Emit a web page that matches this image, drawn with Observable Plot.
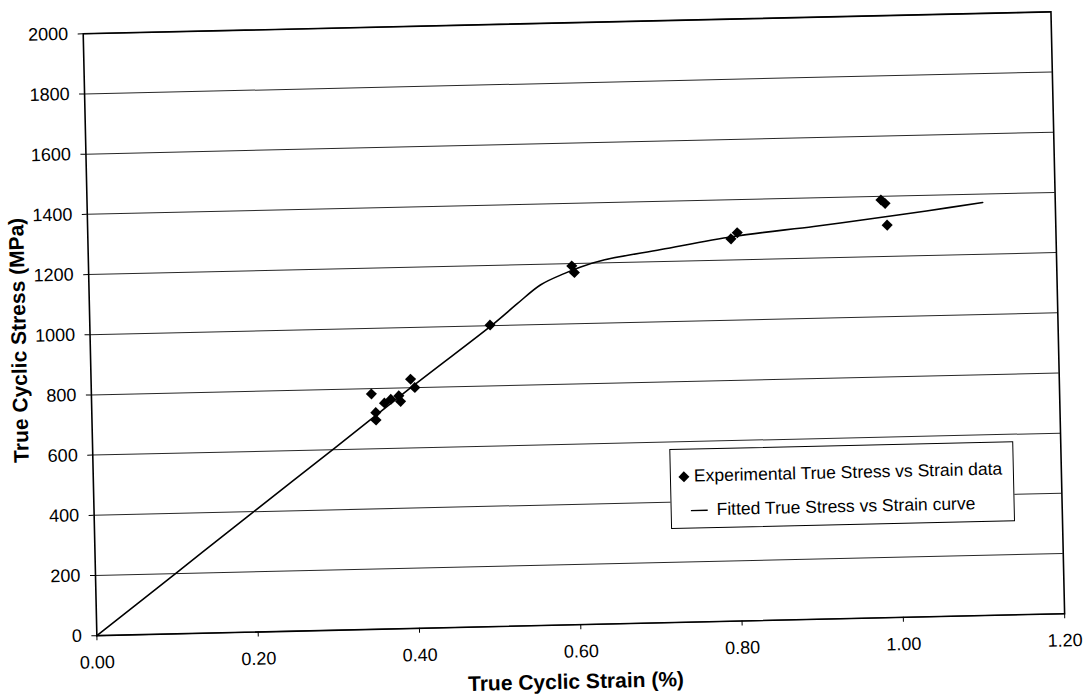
<!DOCTYPE html>
<html>
<head>
<meta charset="utf-8">
<script src="https://cdn.jsdelivr.net/npm/d3@7"></script>
<script src="https://cdn.jsdelivr.net/npm/@observablehq/plot@0.6"></script>
<style>
  html, body { margin: 0; padding: 0; background: #fff; }
  #wrap { position: relative; width: 1083px; height: 699px; overflow: hidden;
          transform: rotate(-1.3deg); transform-origin: 541px 350px;
          font-family: "Liberation Sans", Arial, sans-serif; }
  #legend { position: absolute; left: 667px; top: 452px; width: 344px; height: 80px;
            box-sizing: border-box; border: 1.3px solid #000; background: #fff;
            font-size: 17.5px; color: #000; }
  .row { position: absolute; left: 0; display: flex; align-items: center; white-space: nowrap; }
</style>
</head>
<body>
<div id="wrap">
  <div id="chart"></div>
  <div id="legend">
    <div class="row" style="top:16px;left:7px;">
      <svg width="12" height="14" style="margin-right:4px"><path d="M6,1.5L11.5,7L6,12.5L0.5,7Z" fill="#000"/></svg>
      <span id="lg1"></span>
    </div>
    <div class="row" style="top:50px;left:19px;">
      <svg width="18" height="14" style="margin-right:8px"><line x1="0" y1="7" x2="17" y2="7" stroke="#000" stroke-width="1.3"/></svg>
      <span id="lg2"></span>
    </div>
  </div>
</div>
<script>
// Experimental data points (strain %, stress MPa)
const expStrain = [0.347, 0.352, 0.352, 0.363, 0.371, 0.381, 0.383, 0.396, 0.401, 0.496, 0.599, 0.602, 0.797, 0.805, 0.984, 0.989, 0.991];
const expStress = [782, 720, 695, 751, 763, 774, 755, 828, 800, 1002, 1192, 1170, 1270, 1290, 1388, 1376, 1304];

// Fitted curve
const fitStrain = [0, 0.10, 0.20, 0.30, 0.40, 0.50, 0.53, 0.56, 0.59, 0.61, 0.64, 0.71, 0.80, 0.90, 0.96, 1.04, 1.11];
const fitStress = [0, 202, 404, 605, 808, 1005, 1070, 1132, 1168, 1188, 1210, 1240, 1278, 1305, 1323, 1348, 1372];

// Axis ticks
const xTicks = [0, 0.2, 0.4, 0.6, 0.8, 1.0, 1.2];
const yTicks = [0, 200, 400, 600, 800, 1000, 1200, 1400, 1600, 1800, 2000];

const xTitle = "True Cyclic Strain (%)";
const yTitle = "True Cyclic Stress (MPa)";
const legendLabels = ["Experimental True Stress vs Strain data", "Fitted True Stress vs Strain curve"];

const expData = expStrain.map((x, i) => ({x, y: expStress[i]}));
const fitData = fitStrain.map((x, i) => ({x, y: fitStress[i]}));

const chart = Plot.plot({
  width: 1083,
  height: 699,
  marginLeft: 90,
  marginRight: 25,
  marginTop: 23,
  marginBottom: 74,
  style: {fontFamily: "'Liberation Sans', Arial, sans-serif", background: "#fff", color: "#000"},
  x: {domain: [0, 1.2]},
  y: {domain: [0, 2000]},
  marks: [
    Plot.gridY(yTicks, {stroke: "#000", strokeOpacity: 0.85, strokeWidth: 1}),
    Plot.frame({stroke: "#000", strokeWidth: 1.6}),
    Plot.axisX(xTicks, {tickFormat: d3.format(".2f"), tickSize: 5, tickPadding: 15, fontSize: 18, label: null, stroke: "#000"}),
    Plot.axisY(yTicks, {tickFormat: d => String(d), tickSize: 5, tickPadding: 10, fontSize: 18, label: null, stroke: "#000"}),
    Plot.line(fitData, {x: "x", y: "y", stroke: "#000", strokeWidth: 1.6, curve: "catmull-rom"}),
    Plot.dot(expData, {x: "x", y: "y", symbol: "diamond2", r: 5, fill: "#000", stroke: "none"}),
    Plot.text([xTitle], {frameAnchor: "bottom", dy: 57, dx: -6, textAnchor: "middle", lineAnchor: "middle", fontSize: 21, fontWeight: "bold", fill: "#000"}),
    Plot.text([yTitle], {frameAnchor: "left", dx: -71, dy: 4, rotate: -90, textAnchor: "middle", lineAnchor: "middle", fontSize: 21, fontWeight: "bold", fill: "#000"})
  ]
});
document.getElementById("chart").appendChild(chart);
document.getElementById("lg1").textContent = legendLabels[0];
document.getElementById("lg2").textContent = legendLabels[1];
</script>
</body>
</html>
